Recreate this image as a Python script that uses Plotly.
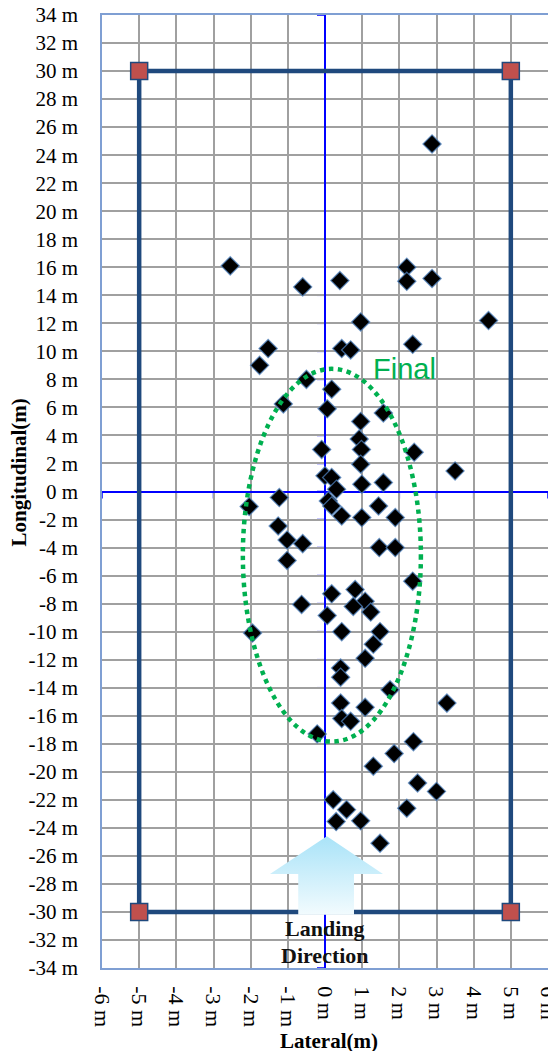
import plotly.graph_objects as go

# ---- data ----
lateral = [2.88, -2.55, -0.6, 0.4, 2.2, 2.2, 2.88,
           0.96, 4.4, -1.53, -1.76, 0.45, 0.69, 2.36, -0.5, 0.18, -1.12, 0.06, 1.57, 0.96,
           0.92, 0.98, -0.09, 2.4,
           0.96, 3.5, 0.0, 0.18, 0.31, 0.99, 1.57, 0.09, 0.18, 0.45, 1.44, 0.99, 1.89,
           -1.23, -2.04, -1.26, -1.02, -0.6, -1.02, 1.46, 1.89, 2.36,
           0.18, 0.81, 1.08, -0.63, 0.76, 1.23, 0.06, 0.45, 1.48, -1.95, 1.3, 1.08,
           0.42, 0.42, 1.75, 3.28, 0.42, 1.08, 0.45, 0.69, -0.21,
           2.38, 1.86, 1.3, 2.49, 3.0, 0.22, 0.58, 2.2, 0.3, 0.96, 1.48]
longitudinal = [24.8, 16.1, 14.6, 15.05, 16.0, 15.0, 15.2,
                12.1, 12.2, 10.2, 9.0, 10.2, 10.1, 10.5, 8.0, 7.3, 6.25, 5.9, 5.6, 5.0,
                3.75, 3.0, 3.0, 2.8,
                1.95, 1.47, 1.12, 1.0, 0.16, 0.52, 0.64, -0.67, -1.03, -1.74, -1.03, -1.86, -1.86,
                -0.43, -1.07, -2.46, -3.46, -3.72, -4.92, -4.0, -4.0, -6.4,
                -7.3, -7.0, -7.83, -8.06, -8.2, -8.6, -8.85, -10.0, -10.0, -10.1, -10.9, -11.9,
                -12.6, -13.25, -14.15, -15.1, -15.1, -15.4, -16.2, -16.4, -17.3,
                -17.85, -18.7, -19.6, -20.8, -21.4, -22.0, -22.7, -22.6, -23.55, -23.5, -25.1]

rect_x = [-5, 5, 5, -5, -5]
rect_y = [30, 30, -30, -30, 30]
corner_x = [-5, 5, 5, -5]
corner_y = [30, 30, -30, -30]

x_ticks = list(range(-6, 7))
y_ticks = list(range(-34, 35, 2))
x_ticktext = [f"{v} m" for v in x_ticks]
y_ticktext = [f"{v} m" for v in y_ticks]

ellipse_bounds = [-2.21, 2.58, -17.85, 8.75]  # x0, x1, y0, y1
final_label = "Final"
final_pos = [2.13, 8.75]

arrow_x = [0.05, 1.56, 0.78, 0.78, -0.72, -0.72, -1.48, 0.05]
arrow_y = [-24.6, -27.3, -27.3, -30.2, -30.2, -27.3, -27.3, -24.6]
arrow_text = ["Landing", "Direction"]
arrow_text_y = [-31.2, -33.1]

SERIF = "Liberation Serif, Times New Roman, serif"

fig = go.Figure()

# boundary rectangle
fig.add_trace(go.Scatter(x=rect_x, y=rect_y, mode="lines",
                         line=dict(color="#1F497D", width=4.5), hoverinfo="skip"))
fig.add_trace(go.Scatter(x=corner_x, y=corner_y, mode="markers",
                         marker=dict(symbol="square", size=17, color="#C0504D",
                                     line=dict(color="#1F497D", width=1.5)),
                         hoverinfo="skip"))
# landing points
fig.add_trace(go.Scatter(x=lateral, y=longitudinal, mode="markers",
                         marker=dict(symbol="diamond", size=14, color="#000000",
                                     line=dict(color="rgba(79,129,189,0.75)", width=1.3))))
# landing-direction arrow
fig.add_trace(go.Scatter(x=arrow_x, y=arrow_y, mode="lines", fill="toself",
                         line=dict(width=0, color="rgba(0,0,0,0)"),
                         fillgradient=dict(type="vertical",
                                           colorscale=[[0, "#F2FBFE"], [1, "#A9E3F8"]]),
                         hoverinfo="skip"))

shapes = []
# ellipse
shapes.append(dict(type="circle", xref="x", yref="y",
                   x0=ellipse_bounds[0], x1=ellipse_bounds[1],
                   y0=ellipse_bounds[2], y1=ellipse_bounds[3],
                   line=dict(color="#00B050", width=4.5, dash="dot"), layer="above"))
# axis tick marks on the zero lines
for v in y_ticks:
    shapes.append(dict(type="line", xref="x", yref="y", xsizemode="pixel", xanchor=0,
                       x0=-8, x1=0, y0=v, y1=v, line=dict(color="#0000FF", width=1.5),
                       layer="below"))
for v in x_ticks:
    shapes.append(dict(type="line", xref="x", yref="y", ysizemode="pixel", yanchor=0,
                       y0=-7, y1=0, x0=v, x1=v, line=dict(color="#0000FF", width=1.5),
                       layer="below"))

annotations = [
    dict(x=final_pos[0], y=final_pos[1], xref="x", yref="y", text=final_label,
         showarrow=False, font=dict(family="Liberation Sans, Arial", size=29, color="#00B050")),
    dict(x=-0.186, y=0.52, xref="paper", yref="paper", text="<b>Longitudinal(m)</b>",
         textangle=-90, showarrow=False, xanchor="center", yanchor="middle",
         font=dict(family=SERIF, size=21, color="#000000")),
    dict(x=0.509, y=-0.0765, xref="paper", yref="paper", text="<b>Lateral(m)</b>",
         showarrow=False, xanchor="center", yanchor="middle",
         font=dict(family=SERIF, size=21, color="#000000")),
]
for t, yy in zip(arrow_text, arrow_text_y):
    annotations.append(dict(x=0, y=yy, xref="x", yref="y", text=f"<b>{t}</b>",
                            showarrow=False, font=dict(family=SERIF, size=22, color="#111111")))

# page body has an 8px margin, so the figure is sized/offset to compensate
fig.update_layout(
    width=548, height=1043,
    margin=dict(l=94, r=8, t=7, b=83, autoexpand=False),
    paper_bgcolor="white", plot_bgcolor="white",
    showlegend=False, hovermode=False,
    shapes=shapes, annotations=annotations,
    xaxis=dict(range=[-6, 6], tickvals=x_ticks, ticktext=x_ticktext, tickangle=90,
               showgrid=True, gridcolor="#A0A0A0", gridwidth=1.5,
               zeroline=True, zerolinecolor="#0000FF", zerolinewidth=1.5,
               showline=True, mirror=True, linecolor="#7F9FD3", linewidth=1.5,
               ticks="", ticklabelstandoff=12, automargin=False, ticklabeloverflow="allow",
               tickfont=dict(family=SERIF, size=22, color="#000000")),
    yaxis=dict(range=[-34, 34], tickvals=y_ticks, ticktext=y_ticktext,
               showgrid=True, gridcolor="#A0A0A0", gridwidth=1.5,
               zeroline=True, zerolinecolor="#0000FF", zerolinewidth=1.5,
               showline=True, mirror=True, linecolor="#7F9FD3", linewidth=1.5,
               ticks="", ticklabelstandoff=18, automargin=False, ticklabeloverflow="allow",
               tickfont=dict(family=SERIF, size=21, color="#000000")),
)

fig.write_html("out.html")
